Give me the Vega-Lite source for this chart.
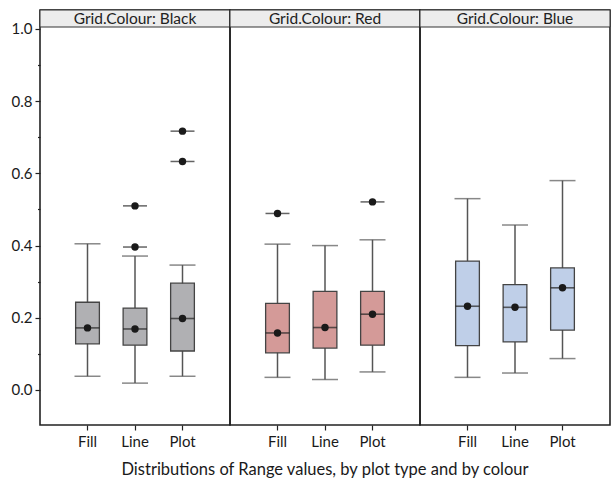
{
  "$schema": "https://vega.github.io/schema/vega-lite/v6.json",
  "padding": {"left": 11, "top": 8, "right": 0, "bottom": 0},
  "background": "white",
  "bounds": "flush",
  "data": {"values": [
    {"kind": "box", "colour": "Black", "type": "Fill", "lower": 0.038, "q1": 0.128, "median": 0.172, "q3": 0.243, "upper": 0.405},
    {"kind": "box", "colour": "Black", "type": "Line", "lower": 0.019, "q1": 0.124, "median": 0.169, "q3": 0.227, "upper": 0.371},
    {"kind": "box", "colour": "Black", "type": "Plot", "lower": 0.038, "q1": 0.108, "median": 0.198, "q3": 0.296, "upper": 0.346},
    {"kind": "box", "colour": "Red", "type": "Fill", "lower": 0.035, "q1": 0.103, "median": 0.158, "q3": 0.240, "upper": 0.404},
    {"kind": "box", "colour": "Red", "type": "Line", "lower": 0.029, "q1": 0.116, "median": 0.173, "q3": 0.273, "upper": 0.400},
    {"kind": "box", "colour": "Red", "type": "Plot", "lower": 0.050, "q1": 0.124, "median": 0.210, "q3": 0.273, "upper": 0.416},
    {"kind": "box", "colour": "Blue", "type": "Fill", "lower": 0.035, "q1": 0.123, "median": 0.232, "q3": 0.357, "upper": 0.530},
    {"kind": "box", "colour": "Blue", "type": "Line", "lower": 0.047, "q1": 0.133, "median": 0.229, "q3": 0.292, "upper": 0.457},
    {"kind": "box", "colour": "Blue", "type": "Plot", "lower": 0.087, "q1": 0.166, "median": 0.283, "q3": 0.338, "upper": 0.580},
    {"kind": "outlier", "colour": "Black", "type": "Line", "value": 0.396},
    {"kind": "outlier", "colour": "Black", "type": "Line", "value": 0.510},
    {"kind": "outlier", "colour": "Black", "type": "Plot", "value": 0.633},
    {"kind": "outlier", "colour": "Black", "type": "Plot", "value": 0.717},
    {"kind": "outlier", "colour": "Red", "type": "Fill", "value": 0.489},
    {"kind": "outlier", "colour": "Red", "type": "Plot", "value": 0.521}
  ]},
  "facet": {
    "column": {
      "field": "colour",
      "type": "nominal",
      "sort": ["Black", "Red", "Blue"],
      "header": {
        "labels": false,
        "title": "Distributions of Range values, by plot type and by colour",
        "titleOrient": "bottom",
        "titleFont": "Lato",
        "titleFontSize": 16.5,
        "titleFontWeight": "normal",
        "titleColor": "#1a1a1a",
        "titlePadding": 3
      }
    }
  },
  "spacing": {"column": 0},
  "spec": {
    "width": 190,
    "height": 415,
    "layer": [
      {
        "encoding": {
          "x": {
            "field": "type",
            "type": "nominal",
            "sort": ["Fill", "Line", "Plot"],
            "scale": {"paddingInner": 0.5, "paddingOuter": 0.75},
            "axis": {"title": null, "labelAngle": 0, "domain": false, "tickSize": 5, "tickWidth": 1.2, "tickColor": "#222", "labelPadding": 4, "labelFontSize": 15}
          }
        },
        "layer": [
          {
            "transform": [{"filter": "datum.kind === 'box'"}],
            "mark": {"type": "rule", "color": "#555555", "strokeWidth": 1.5},
            "encoding": {
              "y": {"field": "lower", "type": "quantitative",
                "scale": {"domain": [-0.097, 1.0526], "nice": false, "zero": false},
                "axis": {
                  "title": null, "grid": false, "domain": false,
                  "values": [0, 0.1, 0.2, 0.3, 0.4, 0.5, 0.6, 0.7, 0.8, 0.9, 1.0],
                  "labelExpr": "round(datum.value*10) % 2 === 0 ? format(datum.value, '.1f') : ''",
                  "labelOverlap": false,
                  "tickColor": "#222",
                  "tickWidth": 1.2,
                  "tickSize": {"condition": {"test": "round(datum.value*10) % 2 === 0", "value": 5}, "value": 2.5},
                  "labelPadding": 3,
                  "labelFontSize": 15
                }},
              "y2": {"field": "upper"}
            }
          },
          {
            "transform": [{"filter": "datum.kind === 'box'"}],
            "mark": {"type": "tick", "color": "#555555", "thickness": 1.5, "size": 26},
            "encoding": {"y": {"field": "lower", "type": "quantitative"}}
          },
          {
            "transform": [{"filter": "datum.kind === 'box'"}],
            "mark": {"type": "tick", "color": "#555555", "thickness": 1.5, "size": 26},
            "encoding": {"y": {"field": "upper", "type": "quantitative"}}
          },
          {
            "transform": [{"filter": "datum.kind === 'box'"}],
            "mark": {"type": "bar", "stroke": "#444444", "strokeWidth": 1.3},
            "encoding": {
              "y": {"field": "q1", "type": "quantitative"},
              "y2": {"field": "q3"},
              "color": {"field": "colour", "type": "nominal", "legend": null,
                "scale": {"domain": ["Black", "Red", "Blue"], "range": ["#b0b0b3", "#d49a98", "#bfcfe8"]}}
            }
          },
          {
            "transform": [{"filter": "datum.kind === 'box'"}],
            "mark": {"type": "tick", "color": "#222222", "thickness": 1.6, "size": 24},
            "encoding": {"y": {"field": "median", "type": "quantitative"}}
          },
          {
            "transform": [{"filter": "datum.kind === 'box'"}],
            "mark": {"type": "point", "filled": true, "color": "#1a1a1a", "opacity": 1, "size": 55},
            "encoding": {"y": {"field": "median", "type": "quantitative"}}
          },
          {
            "transform": [{"filter": "datum.kind === 'outlier'"}],
            "mark": {"type": "tick", "color": "#222222", "thickness": 1.5, "size": 24},
            "encoding": {"y": {"field": "value", "type": "quantitative"}}
          },
          {
            "transform": [{"filter": "datum.kind === 'outlier'"}],
            "mark": {"type": "point", "filled": true, "color": "#1a1a1a", "opacity": 1, "size": 55},
            "encoding": {"y": {"field": "value", "type": "quantitative"}}
          }
        ]
      },
      {
        "transform": [{"filter": "datum.kind === 'box' && datum.type === 'Plot'"}],
        "mark": {"type": "rect", "fill": "#ececec", "stroke": "#333333", "strokeWidth": 1},
        "encoding": {"y": {"datum": 1.0055, "type": "quantitative"}, "y2": {"datum": 1.0526}}
      },
      {
        "transform": [
          {"filter": "datum.kind === 'box' && datum.type === 'Plot'"},
          {"calculate": "'Grid.Colour: ' + datum.colour", "as": "label"}
        ],
        "mark": {"type": "text", "font": "Lato", "fontSize": 15.5, "color": "#222222", "baseline": "middle", "align": "center"},
        "encoding": {
          "y": {"datum": 1.029, "type": "quantitative"},
          "text": {"field": "label"}
        }
      }
    ]
  },
  "config": {
    "view": {"stroke": "#222222", "strokeWidth": 1.6},
    "axis": {"labelFont": "Lato", "labelFontSize": 15, "labelColor": "#1a1a1a"}
  }
}
